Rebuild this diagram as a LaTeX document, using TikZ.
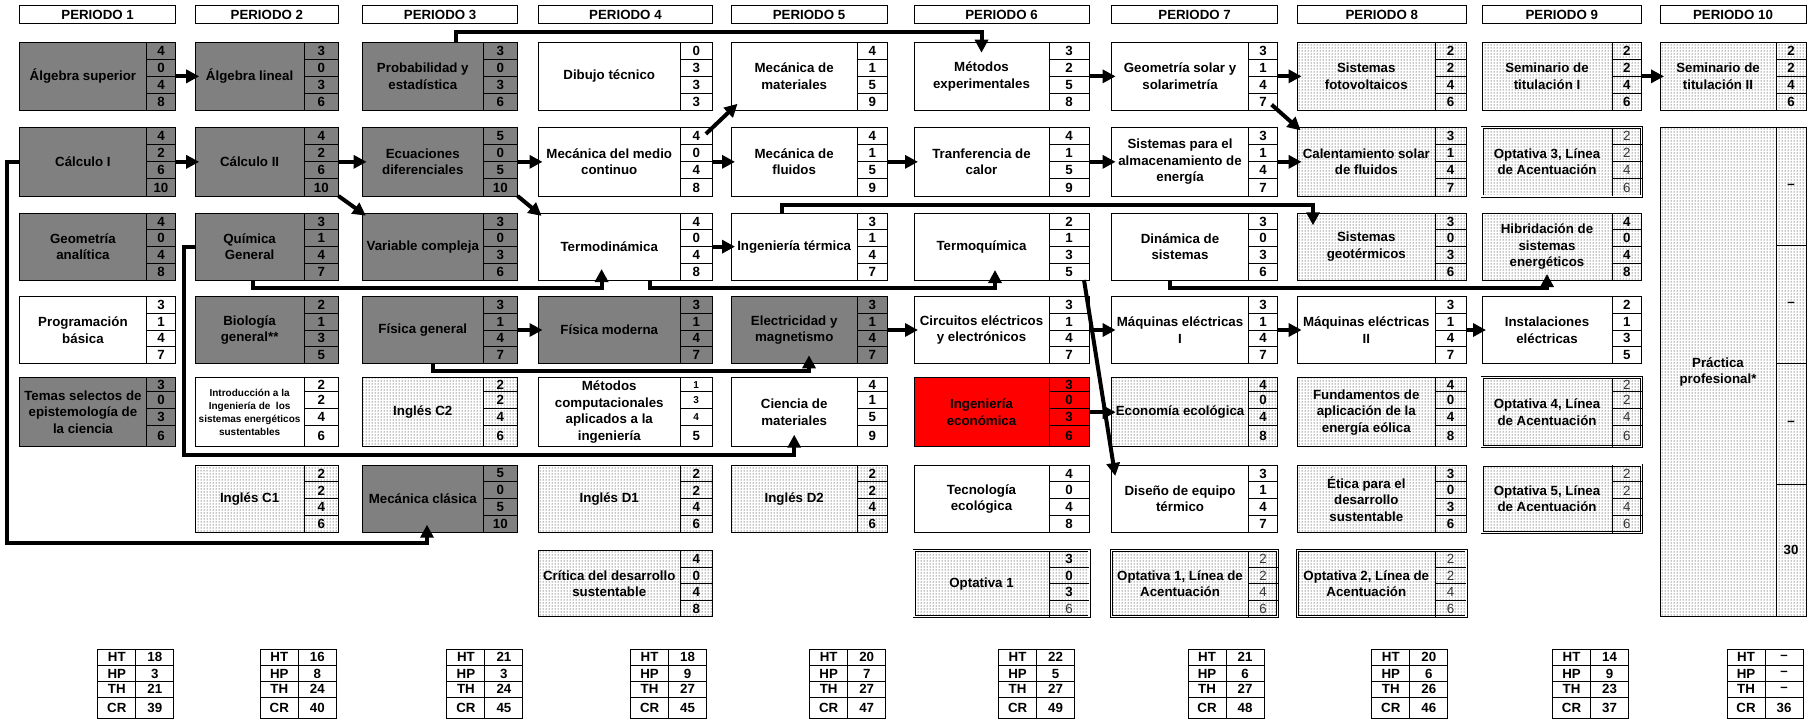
\documentclass[tikz,border=0pt]{standalone}
\usepackage{fontspec}
\setmainfont{Liberation Sans}
\usetikzlibrary{arrows.meta,patterns,calc}

\newcommand{\nombre}{\fontsize{13.3}{16.5}\selectfont\bfseries}
\newcommand{\chica}{\fontsize{10}{13}\selectfont}
\newcommand{\ligera}{\mdseries\color{black!80}}
\newcommand{\cuExtra}{}

% bordes de columnas (izquierdo, columna de horas, derecho) y de filas
\def\colL{{19.6,195.2,362.6,538.5,731,914,1111.6,1297.6,1482,1660}}
\def\colN{{146.3,304,483,680,857.4,1049,1248.5,1435,1612,1776}}
\def\colR{{175.6,338.5,517.6,712.4,887,1089,1277.6,1466,1641.6,1806}}
\def\filaT{{42.7,127.7,213.3,296.7,377.7,465,550.7}}
\def\filaB{{110,196,280,363.3,446.7,532.7,616.7}}

\tikzset{
  caja/.style={draw, line width=1pt, rectangle, inner sep=0pt, outer sep=0pt},
  blanco/.style={fill=white},
  gris/.style={fill=gray},
  rojo/.style={fill=red},
  punteado/.style={pattern=dots, pattern color=black},
  optativa/.style={punteado, double, double distance=1.2pt, line width=0.9pt},
  texto/.style={align=center, inner sep=1pt, outer sep=0pt, font=\nombre\cuExtra},
  horas/.style={inner sep=0pt, font=\nombre},
  borde/.style={line width=1pt},
  encabezado/.style={draw, line width=1pt, inner sep=0pt, outer sep=0pt,
    minimum height=17.6pt, font=\nombre},
  flecha/.style={line width=4pt, -{Triangle[length=13pt,width=13pt]}, shorten >=-4pt},
  tabla/.style={line width=1pt}
}

% \curso[estilo]{nombre}{periodo}{fila}{texto}{h1}{h2}{h3}{h4}
\newcommand{\curso}[9][blanco]{%
  \pgfmathtruncatemacro\cuI{#3-1}%
  \pgfmathtruncatemacro\cuJ{#4-1}%
  \pgfmathsetmacro\cuL{\colL[\cuI]}%
  \pgfmathsetmacro\cuN{\colN[\cuI]}%
  \pgfmathsetmacro\cuR{\colR[\cuI]}%
  \pgfmathsetmacro\cuT{\filaT[\cuJ]}%
  \pgfmathsetmacro\cuB{\filaB[\cuJ]}%
  \pgfmathsetmacro\cuW{\cuR-\cuL}%
  \pgfmathsetmacro\cuV{\cuN-\cuL}%
  \pgfmathsetmacro\cuH{\cuB-\cuT}%
  \ifnum#4=5
    \pgfmathsetmacro\cuA{\cuT+14}\pgfmathsetmacro\cuM{\cuT+30.6}\pgfmathsetmacro\cuZ{\cuT+48}%
  \else
    \pgfmathsetmacro\cuA{\cuT+\cuH/4}\pgfmathsetmacro\cuM{\cuT+\cuH/2}\pgfmathsetmacro\cuZ{\cuT+3*\cuH/4}%
  \fi
  \node[caja,#1,minimum width=\cuW pt,minimum height=\cuH pt,anchor=north west] (#2) at (\cuL,\cuT) {};
  \node[texto,minimum width=\cuV pt,minimum height=\cuH pt,anchor=north west] (#2-n) at (\cuL,\cuT) {#5};
  \draw[borde] (\cuN,\cuT) -- (\cuN,\cuB) (\cuN,\cuA) -- (\cuR,\cuA)
    (\cuN,\cuM) -- (\cuR,\cuM) (\cuN,\cuZ) -- (\cuR,\cuZ);
  \node[horas] (#2-1) at ({(\cuN+\cuR)/2},{(\cuT+\cuA)/2}) {#6};
  \node[horas] (#2-2) at ({(\cuN+\cuR)/2},{(\cuA+\cuM)/2}) {#7};
  \node[horas] (#2-3) at ({(\cuN+\cuR)/2},{(\cuM+\cuZ)/2}) {#8};
  \node[horas] (#2-4) at ({(\cuN+\cuR)/2},{(\cuZ+\cuB)/2}) {#9};
}

\begin{document}
\begin{tikzpicture}[x=1pt, y=-1pt]

  \useasboundingbox (0,0) rectangle (1809,720);
  \fill[white] (0,0) rectangle (1809,720);

  % --- encabezados ---
  \foreach \i in {1,...,10} {
    \pgfmathtruncatemacro\cuI{\i-1}
    \pgfmathsetmacro\cuL{\colL[\cuI]}
    \pgfmathsetmacro\cuW{\colR[\cuI]-\cuL}
    \node[encabezado, minimum width=\cuW pt, anchor=north west] (per\i) at (\cuL,5.7) {PERIODO \i};
  }

  % --- periodo 1 ---
  \curso[gris]{algsup}{1}{1}{Álgebra superior}{4}{0}{4}{8}
  \curso[gris]{calc1}{1}{2}{Cálculo I}{4}{2}{6}{10}
  \curso[gris]{geoana}{1}{3}{Geometría\\analítica}{4}{0}{4}{8}
  \curso{progbas}{1}{4}{Programación\\básica}{3}{1}{4}{7}
  \curso[gris]{temsel}{1}{5}{Temas selectos de\\epistemología de\\la ciencia}{3}{0}{3}{6}

  % --- periodo 2 ---
  \curso[gris]{alglin}{2}{1}{Álgebra lineal}{3}{0}{3}{6}
  \curso[gris]{calc2}{2}{2}{Cálculo II}{4}{2}{6}{10}
  \curso[gris]{quimica}{2}{3}{Química\\General}{3}{1}{4}{7}
  \curso[gris]{biogen}{2}{4}{Biología\\general**}{2}{1}{3}{5}
  {\renewcommand{\cuExtra}{\chica}
  \curso{intro}{2}{5}{Introducción a la\\Ingeniería de\ \ los\\sistemas energéticos\\sustentables}{2}{2}{4}{6}}
  \curso[punteado]{ingc1}{2}{6}{Inglés C1}{2}{2}{4}{6}

  % --- periodo 3 ---
  \curso[gris]{prob}{3}{1}{Probabilidad y\\estadística}{3}{0}{3}{6}
  \curso[gris]{ecdif}{3}{2}{Ecuaciones\\diferenciales}{5}{0}{5}{10}
  \curso[gris]{varcomp}{3}{3}{Variable compleja}{3}{0}{3}{6}
  \curso[gris]{fisgen}{3}{4}{Física general}{3}{1}{4}{7}
  \curso[punteado]{ingc2}{3}{5}{Inglés C2}{2}{2}{4}{6}
  \curso[gris]{mecclas}{3}{6}{Mecánica clásica}{5}{0}{5}{10}

  % --- periodo 4 ---
  \curso{dibujo}{4}{1}{Dibujo técnico}{0}{3}{3}{3}
  \curso{mmc}{4}{2}{Mecánica del medio\\continuo}{4}{0}{4}{8}
  \curso{termo}{4}{3}{Termodinámica}{4}{0}{4}{8}
  \curso[gris]{fismod}{4}{4}{Física moderna}{3}{1}{4}{7}
  \curso{metcomp}{4}{5}{Métodos\\computacionales\\aplicados a la\\ingeniería}{\chica 1}{\chica 3}{\chica 4}{5}
  \curso[punteado]{ingd1}{4}{6}{Inglés D1}{2}{2}{4}{6}
  \curso[punteado]{critica}{4}{7}{Crítica del desarrollo\\sustentable}{4}{0}{4}{8}

  % --- periodo 5 ---
  \curso{mecmat}{5}{1}{Mecánica de\\materiales}{4}{1}{5}{9}
  \curso{mecflu}{5}{2}{Mecánica de\\fluidos}{4}{1}{5}{9}
  \curso{ingterm}{5}{3}{Ingeniería térmica}{3}{1}{4}{7}
  \curso[gris]{elec}{5}{4}{Electricidad y\\magnetismo}{3}{1}{4}{7}
  \curso{ciencia}{5}{5}{Ciencia de\\materiales}{4}{1}{5}{9}
  \curso[punteado]{ingd2}{5}{6}{Inglés D2}{2}{2}{4}{6}

  % --- periodo 6 ---
  \curso{metexp}{6}{1}{Métodos\\experimentales}{3}{2}{5}{8}
  \curso{trcal}{6}{2}{Tranferencia de\\calor}{4}{1}{5}{9}
  \curso{termoq}{6}{3}{Termoquímica}{2}{1}{3}{5}
  \curso{circ}{6}{4}{Circuitos eléctricos\\y electrónicos}{3}{1}{4}{7}
  \curso[rojo]{ingecon}{6}{5}{Ingeniería\\económica}{3}{0}{3}{6}
  \curso{tecnoeco}{6}{6}{Tecnología\\ecológica}{4}{0}{4}{8}
  \curso[optativa]{opt1}{6}{7}{Optativa 1}{3}{0}{3}{\ligera 6}

  % --- periodo 7 ---
  \curso{geosol}{7}{1}{Geometría solar y\\solarimetría}{3}{1}{4}{7}
  \curso{sisalm}{7}{2}{Sistemas para el\\almacenamiento de\\energía}{3}{1}{4}{7}
  \curso{dinsis}{7}{3}{Dinámica de\\sistemas}{3}{0}{3}{6}
  \curso{maq1}{7}{4}{Máquinas eléctricas\\I}{3}{1}{4}{7}
  \curso[punteado]{ecoeco}{7}{5}{Economía ecológica}{4}{0}{4}{8}
  \curso{diseno}{7}{6}{Diseño de equipo\\térmico}{3}{1}{4}{7}
  \curso[optativa]{optla1}{7}{7}{Optativa 1, Línea de\\Acentuación}{\ligera 2}{\ligera 2}{\ligera 4}{\ligera 6}

  % --- periodo 8 ---
  \curso[punteado]{sfv}{8}{1}{Sistemas\\fotovoltaicos}{2}{2}{4}{6}
  \curso[punteado]{calsol}{8}{2}{Calentamiento solar\\de fluidos}{3}{1}{4}{7}
  \curso[punteado]{sgeo}{8}{3}{Sistemas\\geotérmicos}{3}{0}{3}{6}
  \curso{maq2}{8}{4}{Máquinas eléctricas\\II}{3}{1}{4}{7}
  \curso[punteado]{eolica}{8}{5}{Fundamentos de\\aplicación de la\\energía eólica}{4}{0}{4}{8}
  \curso[punteado]{etica}{8}{6}{Ética para el\\desarrollo\\sustentable}{3}{0}{3}{6}
  \curso[optativa]{optla2}{8}{7}{Optativa 2, Línea de\\Acentuación}{\ligera 2}{\ligera 2}{\ligera 4}{\ligera 6}

  % --- periodo 9 ---
  \curso[punteado]{semI}{9}{1}{Seminario de\\titulación I}{2}{2}{4}{6}
  \curso[optativa]{optla3}{9}{2}{Optativa 3, Línea\\de Acentuación}{\ligera 2}{\ligera 2}{\ligera 4}{\ligera 6}
  \curso[punteado]{hibrid}{9}{3}{Hibridación de\\sistemas\\energéticos}{4}{0}{4}{8}
  \curso{inst}{9}{4}{Instalaciones\\eléctricas}{2}{1}{3}{5}
  \curso[optativa]{optla4}{9}{5}{Optativa 4, Línea\\de Acentuación}{\ligera 2}{\ligera 2}{\ligera 4}{\ligera 6}
  \curso[optativa]{optla5}{9}{6}{Optativa 5, Línea\\de Acentuación}{\ligera 2}{\ligera 2}{\ligera 4}{\ligera 6}

  % --- periodo 10 ---
  \curso[punteado]{semII}{10}{1}{Seminario de\\titulación II}{2}{2}{4}{6}
  \node[caja, punteado, minimum width=146pt, minimum height=489pt, anchor=north west] (practica) at (1660,127.7) {};
  \node[texto, minimum width=116pt, minimum height=489pt, anchor=north west] (practica-n) at (1660,127.7) {Práctica\\profesional*};
  \draw[borde] (1776,127.7) -- (1776,616.7) (1776,245) -- (1806,245)
    (1776,363) -- (1806,363) (1776,484) -- (1806,484);
  \node[horas] (practica-1) at (1791,186.4) {--};
  \node[horas] (practica-2) at (1791,304) {--};
  \node[horas] (practica-3) at (1791,423.5) {--};
  \node[horas] (practica-4) at (1791,550.4) {30};

  % --- totales por periodo ---
  \foreach \n/\x/\ha/\hb/\hc/\hd in {1/97.8/18/3/21/39, 2/260.3/16/8/24/40,
      3/446.9/21/3/24/45, 4/630.6/18/9/27/45, 5/809.7/20/7/27/47,
      6/998.6/22/5/27/49, 7/1188/21/6/27/48, 8/1371.8/20/6/26/46,
      9/1552.5/14/9/23/37, 10/1727/--/--/--/36} {
    \draw[tabla] (\x,649) rectangle ++(76,69);
    \draw[tabla] ({\x+38},649) -- ({\x+38},718)
      (\x,665.5) -- ++(76,0) (\x,681.5) -- ++(76,0) (\x,697) -- ++(76,0);
    \node[horas] (res\n-ht) at ({\x+19},657.3) {HT};
    \node[horas] (res\n-hp) at ({\x+19},673.5) {HP};
    \node[horas] (res\n-th) at ({\x+19},689.3) {TH};
    \node[horas] (res\n-cr) at ({\x+19},707.5) {CR};
    \node[horas] (res\n-vht) at ({\x+57},657.3) {\ha};
    \node[horas] (res\n-vhp) at ({\x+57},673.5) {\hb};
    \node[horas] (res\n-vth) at ({\x+57},689.3) {\hc};
    \node[horas] (res\n-vcr) at ({\x+57},707.5) {\hd};
  }

  % --- puntos de quiebre de las seriaciones largas ---
  \coordinate (b-prob) at (456,31.7);
  \coordinate (b-ingterm) at (782,205);
  \coordinate (e-sgeo) at (1313,205);
  \coordinate (b-quim) at (252.6,288);
  \coordinate (e-termo) at (601.6,288);
  \coordinate (b-termo) at (650.4,288);
  \coordinate (e-termoq) at (995,288);
  \coordinate (b-dinsis) at (1170,288);
  \coordinate (b-fisgen) at (433,371);
  \coordinate (e-elec) at (809,371);
  \coordinate (b-quim2) at (184,455);
  \coordinate (b-calc1) at (6.9,543.3);
  \coordinate (e-mecclas) at (427,543.3);

  % --- seriaciones horizontales ---
  \draw[flecha] (algsup.east) -- (alglin.west);
  \draw[flecha] (metexp.east) -- (geosol.west);
  \draw[flecha] (geosol.east) -- (sfv.west);
  \draw[flecha] (semI.east) -- (semII.west);
  \draw[flecha] (calc1.east) -- (calc2.west);
  \draw[flecha] (calc2.east) -- (ecdif.west);
  \draw[flecha] (ecdif.east) -- (mmc.west);
  \draw[flecha] (mmc.east) -- (mecflu.west);
  \draw[flecha] (mecflu.east) -- (trcal.west);
  \draw[flecha] (trcal.east) -- (sisalm.west);
  \draw[flecha] (sisalm.east) -- (calsol.west);
  \draw[flecha] (termo.east) -- (ingterm.west);
  \draw[flecha] (fisgen.east) -- (fismod.west);
  \draw[flecha] (elec.east) -- (circ.west);
  \draw[flecha] (circ.east) -- (maq1.west);
  \draw[flecha] (maq1.east) -- (maq2.west);
  \draw[flecha] (maq2.east) -- (inst.west);
  \draw[flecha] (ingecon.east) -- (ecoeco.west);

  % --- seriaciones diagonales ---
  \draw[flecha] (calc2.south east) -- (varcomp.north west);
  \draw[flecha] (ecdif.south east) -- (termo.north west);
  \draw[flecha, shorten <=-9pt, shorten >=-9pt] (mmc.north east) -- (mecmat.south west);
  \draw[flecha, shorten <=-8pt] (geosol.south east) -- (calsol.north west);
  \draw[flecha] ($(termoq.south east)+(-5,0)$) -- ($(diseno.north west)+(3,7)$);

  % --- seriaciones con quiebre ---
  \draw[flecha, shorten >=-10pt] (prob.north -| b-prob) -- (b-prob) -| (metexp-n.north);
  \draw[flecha, shorten >=-12pt] (ingterm.north -| b-ingterm) -- (b-ingterm) -- (e-sgeo) -- (sgeo.north -| e-sgeo);
  \draw[flecha, shorten >=-11pt] (quimica.south -| b-quim) -- (b-quim) -- (e-termo) -- (termo.south -| e-termo);
  \draw[flecha, shorten >=-10pt] (termo.south -| b-termo) -- (b-termo) -- (e-termoq) -- (termoq.south -| e-termoq);
  \draw[flecha, shorten >=-6pt] (dinsis.south -| b-dinsis) -- (b-dinsis) -| (hibrid-n.south);
  \draw[flecha, shorten >=-8pt] (fisgen.south -| b-fisgen) -- (b-fisgen) -- (e-elec) -- (elec.south -| e-elec);
  \draw[flecha, shorten >=-12pt] (quimica.west) -| (b-quim2) -| (ciencia-n.south);
  \draw[flecha, shorten >=-8pt] (calc1.west) -| (b-calc1) -- (e-mecclas) -- (mecclas.south -| e-mecclas);

\end{tikzpicture}
\end{document}
